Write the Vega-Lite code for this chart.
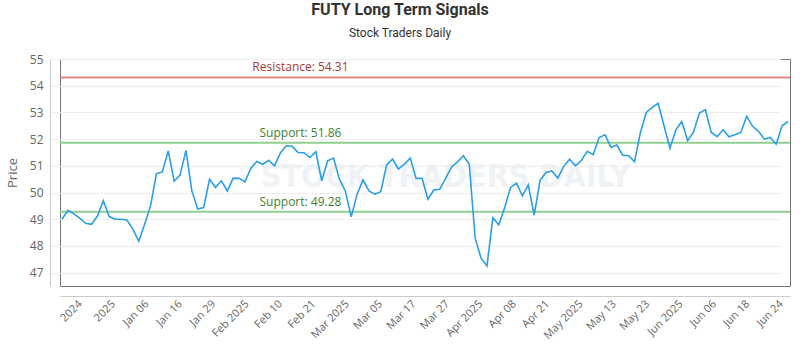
{
  "$schema": "https://vega.github.io/schema/vega-lite/v6.json",
  "width": 730,
  "height": 227,
  "autosize": "none",
  "padding": {"left": 60, "top": 59, "right": 10, "bottom": 64},
  "background": "#ffffff",
  "config": {
    "view": {"stroke": "#777777", "strokeWidth": 1},
    "font": "Open Sans",
    "axis": {"labelOverlap": false, "labelFont": "Open Sans", "labelColor": "#666666", "ticks": false, "domainColor": "#cccccc", "offset": 10},
    "axisY": {"gridColor": "#eeeeee", "labelFontSize": 12, "labelPadding": 7},
    "axisX": {"grid": false, "labelFontSize": 11, "labelPadding": 6}
  },
  "title": {
    "text": "FUTY Long Term Signals",
    "subtitle": "Stock Traders Daily",
    "anchor": "middle",
    "frame": "group",
    "dx": -25,
    "offset": 14,
    "font": "Roboto",
    "fontSize": 16,
    "fontWeight": "bold",
    "color": "#333333",
    "subtitleFont": "Roboto",
    "subtitleFontSize": 12,
    "subtitleColor": "#333333",
    "subtitlePadding": 10
  },
  "datasets": {
    "price": [
      {"i": 0, "v": 49.0}, {"i": 1, "v": 49.33}, {"i": 2, "v": 49.2}, {"i": 3, "v": 49.04},
      {"i": 4, "v": 48.85}, {"i": 5, "v": 48.81}, {"i": 6, "v": 49.12}, {"i": 7, "v": 49.69},
      {"i": 8, "v": 49.1}, {"i": 9, "v": 49.0}, {"i": 10, "v": 49.0}, {"i": 11, "v": 48.97},
      {"i": 12, "v": 48.63}, {"i": 13, "v": 48.18}, {"i": 14, "v": 48.81}, {"i": 15, "v": 49.5},
      {"i": 16, "v": 50.71}, {"i": 17, "v": 50.77}, {"i": 18, "v": 51.56}, {"i": 19, "v": 50.43},
      {"i": 20, "v": 50.65}, {"i": 21, "v": 51.58}, {"i": 22, "v": 50.06}, {"i": 23, "v": 49.38},
      {"i": 24, "v": 49.44}, {"i": 25, "v": 50.5}, {"i": 26, "v": 50.19}, {"i": 27, "v": 50.44},
      {"i": 28, "v": 50.06}, {"i": 29, "v": 50.54}, {"i": 30, "v": 50.53}, {"i": 31, "v": 50.4},
      {"i": 32, "v": 50.91}, {"i": 33, "v": 51.16}, {"i": 34, "v": 51.06}, {"i": 35, "v": 51.21},
      {"i": 36, "v": 51.0}, {"i": 37, "v": 51.48}, {"i": 38, "v": 51.75}, {"i": 39, "v": 51.73},
      {"i": 40, "v": 51.5}, {"i": 41, "v": 51.49}, {"i": 42, "v": 51.31}, {"i": 43, "v": 51.53},
      {"i": 44, "v": 50.44}, {"i": 45, "v": 51.19}, {"i": 46, "v": 51.29}, {"i": 47, "v": 50.5},
      {"i": 48, "v": 50.06}, {"i": 49, "v": 49.09}, {"i": 50, "v": 49.94}, {"i": 51, "v": 50.47},
      {"i": 52, "v": 50.06}, {"i": 53, "v": 49.94}, {"i": 54, "v": 50.03}, {"i": 55, "v": 51.03},
      {"i": 56, "v": 51.25}, {"i": 57, "v": 50.88}, {"i": 58, "v": 51.06}, {"i": 59, "v": 51.29},
      {"i": 60, "v": 50.53}, {"i": 61, "v": 50.53}, {"i": 62, "v": 49.75}, {"i": 63, "v": 50.1},
      {"i": 64, "v": 50.12}, {"i": 65, "v": 50.53}, {"i": 66, "v": 50.96}, {"i": 67, "v": 51.15},
      {"i": 68, "v": 51.38}, {"i": 69, "v": 51.06}, {"i": 70, "v": 48.29}, {"i": 71, "v": 47.54},
      {"i": 72, "v": 47.25}, {"i": 73, "v": 49.06}, {"i": 74, "v": 48.79}, {"i": 75, "v": 49.44},
      {"i": 76, "v": 50.19}, {"i": 77, "v": 50.35}, {"i": 78, "v": 49.88}, {"i": 79, "v": 50.29},
      {"i": 80, "v": 49.15}, {"i": 81, "v": 50.46}, {"i": 82, "v": 50.75}, {"i": 83, "v": 50.81},
      {"i": 84, "v": 50.54}, {"i": 85, "v": 50.98}, {"i": 86, "v": 51.25}, {"i": 87, "v": 51.0},
      {"i": 88, "v": 51.21}, {"i": 89, "v": 51.54}, {"i": 90, "v": 51.42}, {"i": 91, "v": 52.06},
      {"i": 92, "v": 52.16}, {"i": 93, "v": 51.69}, {"i": 94, "v": 51.78}, {"i": 95, "v": 51.4},
      {"i": 96, "v": 51.38}, {"i": 97, "v": 51.16}, {"i": 98, "v": 52.25}, {"i": 99, "v": 53.0},
      {"i": 100, "v": 53.19}, {"i": 101, "v": 53.34}, {"i": 102, "v": 52.5}, {"i": 103, "v": 51.66},
      {"i": 104, "v": 52.35}, {"i": 105, "v": 52.66}, {"i": 106, "v": 51.94}, {"i": 107, "v": 52.27},
      {"i": 108, "v": 52.98}, {"i": 109, "v": 53.1}, {"i": 110, "v": 52.25}, {"i": 111, "v": 52.09},
      {"i": 112, "v": 52.35}, {"i": 113, "v": 52.09}, {"i": 114, "v": 52.16}, {"i": 115, "v": 52.25},
      {"i": 116, "v": 52.85}, {"i": 117, "v": 52.48}, {"i": 118, "v": 52.29}, {"i": 119, "v": 52.0},
      {"i": 120, "v": 52.06}, {"i": 121, "v": 51.81}, {"i": 122, "v": 52.5}, {"i": 123, "v": 52.66}
    ],
    "levels": [
      {"kind": "Resistance", "level": 54.31, "label": "Resistance: 54.31"},
      {"kind": "Support", "level": 51.86, "label": "Support: 51.86"},
      {"kind": "Support", "level": 49.28, "label": "Support: 49.28"}
    ]
  },
  "encoding": {
    "x": {
      "field": "i", "type": "quantitative",
      "scale": {"domain": [-0.34, 123.34], "nice": false, "zero": false},
      "axis": {
        "title": null,
        "values": [3.05, 8.706, 14.362, 20.018, 25.674, 31.33, 36.986, 42.642, 48.298, 53.954, 59.61, 65.266, 70.922, 76.578, 82.234, 87.89, 93.546, 99.202, 104.858, 110.514, 116.17, 121.826],
        "labelExpr": "['2024','2025','Jan 06','Jan 16','Jan 29','Feb 2025','Feb 10','Feb 21','Mar 2025','Mar 05','Mar 17','Mar 27','Apr 2025','Apr 08','Apr 21','May 2025','May 13','May 23','Jun 2025','Jun 06','Jun 18','Jun 24'][round((datum.value-3.05)/5.656)]",
        "labelAngle": -45, "labelAlign": "right", "labelBaseline": "middle"
      }
    },
    "y": {
      "field": "v", "type": "quantitative",
      "scale": {"domain": [46.5, 55], "nice": false, "zero": false},
      "axis": {
        "title": "Price", "titleFontSize": 13, "titleColor": "#666666", "titleFontWeight": "normal", "titleFont": "Open Sans",
        "titlePadding": 10,
        "values": [47, 48, 49, 50, 51, 52, 53, 54, 55],
        "grid": true
      }
    }
  },
  "layer": [
    {
      "data": {"values": [{"wm": "STOCK TRADERS DAILY"}]},
      "mark": {"type": "text", "font": "DejaVu Sans Condensed", "fontWeight": "bold", "fontSize": 32, "color": "#e9eef3", "opacity": 0.7, "align": "center", "baseline": "middle"},
      "encoding": {
        "x": {"value": {"expr": "scale('x', 65)"}},
        "y": {"value": {"expr": "scale('y', 50.6)"}},
        "text": {"field": "wm"}
      }
    },
    {
      "data": {"name": "levels"},
      "mark": {"type": "rule", "strokeWidth": 2},
      "encoding": {
        "x": null,
        "y": {"field": "level", "type": "quantitative"},
        "stroke": {"field": "kind", "type": "nominal", "scale": {"domain": ["Resistance", "Support"], "range": ["#e08a8a", "#8fcf8f"]}, "legend": null}
      }
    },
    {
      "data": {"name": "levels"},
      "mark": {"type": "text", "align": "center", "baseline": "bottom", "dy": -3, "fontSize": 12, "font": "Open Sans"},
      "encoding": {
        "x": {"value": {"expr": "scale('x', 40.4)"}},
        "y": {"field": "level", "type": "quantitative"},
        "text": {"field": "label"},
        "fill": {"field": "kind", "type": "nominal", "scale": {"domain": ["Resistance", "Support"], "range": ["#a83a3a", "#3d7f2f"]}, "legend": null}
      }
    },
    {
      "data": {"name": "price"},
      "mark": {"type": "line", "color": "#2b9fe6", "strokeWidth": 1.6}
    }
  ]
}
